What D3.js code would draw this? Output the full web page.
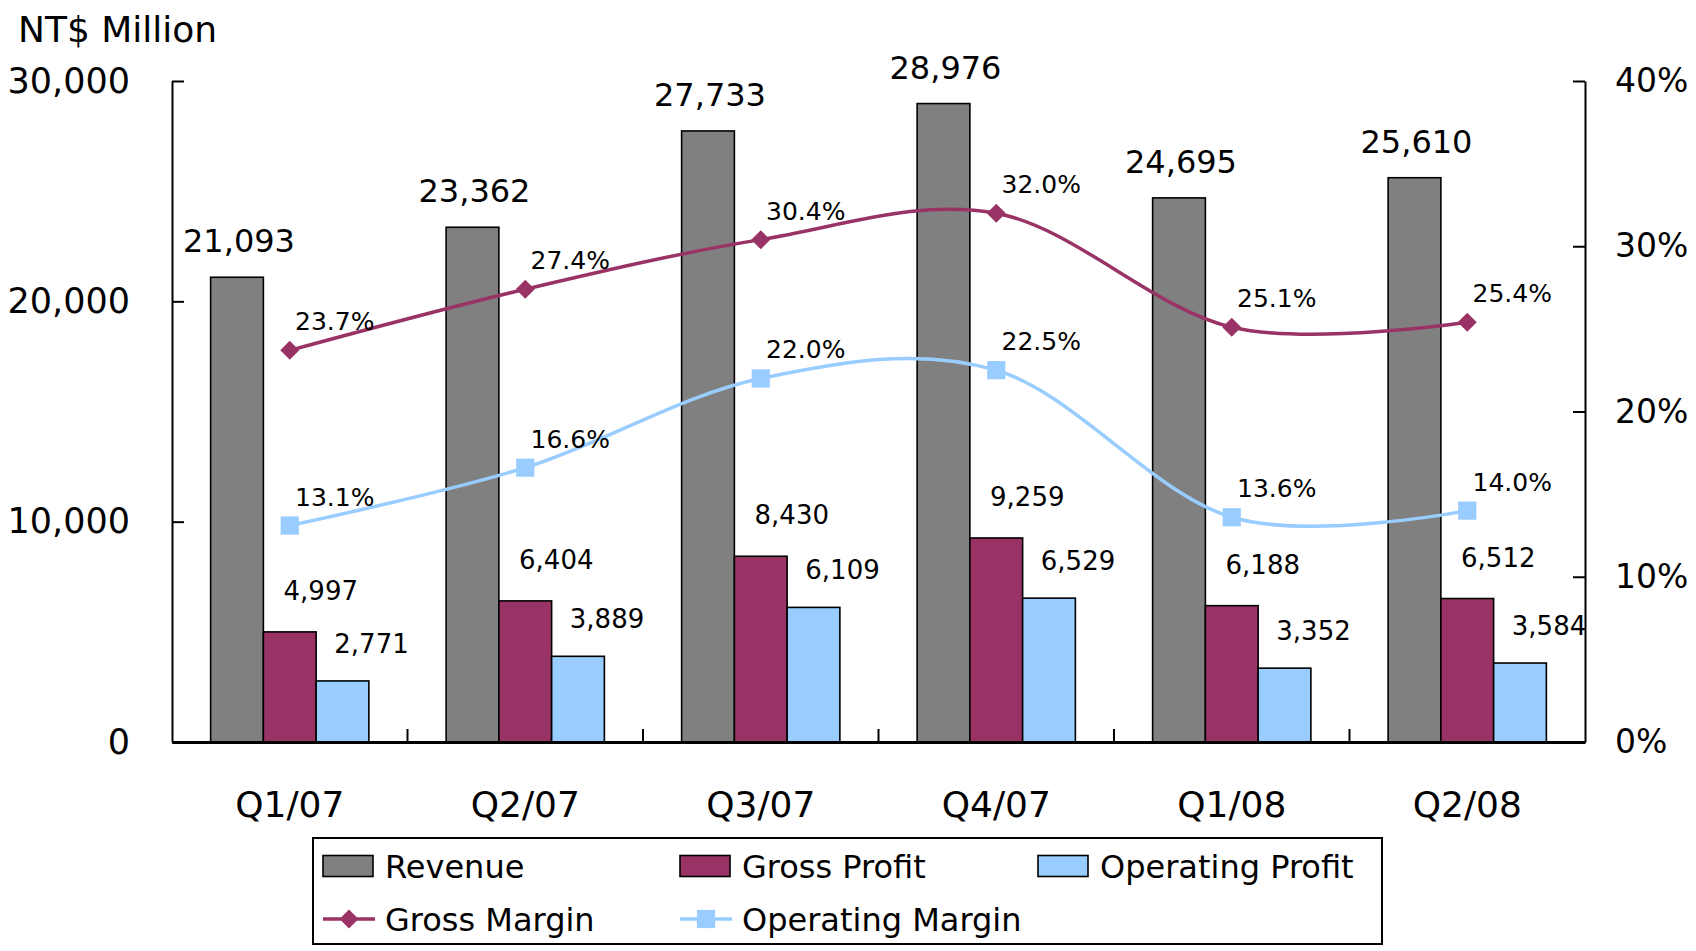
<!DOCTYPE html>
<html>
<head>
<meta charset="utf-8">
<script src="https://cdn.jsdelivr.net/npm/d3@7"></script>
<style>
  body { margin: 0; background: #fff; }
  text { font-family: "DejaVu Sans", Verdana, sans-serif; fill: #000; }
</style>
</head>
<body>
<script>
// chart values
var quarters = ["Q1/07", "Q2/07", "Q3/07", "Q4/07", "Q1/08", "Q2/08"]
var revenue = [21093, 23362, 27733, 28976, 24695, 25610]
var grossProfit = [4997, 6404, 8430, 9259, 6188, 6512]
var operatingProfit = [2771, 3889, 6109, 6529, 3352, 3584]
var grossMargin = [23.7, 27.4, 30.4, 32.0, 25.1, 25.4]
var operatingMargin = [13.1, 16.6, 22.0, 22.5, 13.6, 14.0]
var leftTicks = [0, 10000, 20000, 30000]
var rightTicks = [0, 10, 20, 30, 40]
var barSeries = ["Revenue", "Gross Profit", "Operating Profit"]
var lineSeries = ["Gross Margin", "Operating Margin"]

var W = 1696, H = 951
var plot = { left: 172, right: 1585, top: 81, bottom: 742 }
var colors = { "Revenue": "#808080", "Gross Profit": "#993366", "Operating Profit": "#99ccff",
               "Gross Margin": "#993366", "Operating Margin": "#99ccff" }

var svg = d3.select("body").append("svg")
  .attr("width", W).attr("height", H)

var x = d3.scaleBand().domain(quarters).range([plot.left, plot.right])
var gap = x.bandwidth() * 0.164
var xs = d3.scaleBand().domain(barSeries).range([gap, x.bandwidth() - gap])
var y = d3.scaleLinear().domain([0, 30000]).range([plot.bottom, plot.top])
var y2 = d3.scaleLinear().domain([0, 40]).range([plot.bottom, plot.top])

// bars
var barData = [revenue, grossProfit, operatingProfit]
var rows = []
quarters.forEach(function(q, i) {
  barSeries.forEach(function(s, j) {
    rows.push({ q: q, s: s, v: barData[j][i] })
  })
})

svg.append("g").selectAll("rect")
  .data(rows)
  .enter()
  .append("rect")
  .attr("x", function(d) { return x(d.q) + xs(d.s) })
  .attr("width", xs.bandwidth())
  .attr("y", function(d) { return y(d.v) })
  .attr("height", function(d) { return plot.bottom - y(d.v) })
  .attr("fill", function(d) { return colors[d.s] })
  .attr("stroke", "#000")
  .attr("stroke-width", 1.6)

// axes
var axisL = svg.append("g").attr("transform", "translate(" + plot.left + ",0)")
  .call(d3.axisLeft(y).tickValues(leftTicks).tickFormat(d3.format(","))
    .tickSizeInner(-12).tickSizeOuter(0).tickPadding(42))
var axisR = svg.append("g").attr("transform", "translate(" + plot.right + ",0)")
  .call(d3.axisRight(y2).tickValues(rightTicks).tickFormat(function(d) { return d + "%" })
    .tickSizeInner(-12).tickSizeOuter(0).tickPadding(30))
var axisB = svg.append("g").attr("transform", "translate(0," + plot.bottom + ")")
  .call(d3.axisBottom(x).tickSize(0).tickPadding(49))

;[axisL, axisR, axisB].forEach(function(a) {
  a.selectAll("path, line").attr("stroke", "#000").attr("stroke-width", 2)
  a.selectAll("text").attr("font-family", "DejaVu Sans").attr("font-size", 35).attr("fill", "#000")
})
axisR.selectAll("text").attr("font-size", 33)
axisB.selectAll("text").attr("font-size", 36)
axisB.select(".domain").attr("stroke-width", 3)

// category separators on the bottom axis
var bounds = quarters.map(function(q) { return x(q) }).slice(1)
svg.append("g").selectAll("line")
  .data(bounds)
  .enter()
  .append("line")
  .attr("x1", function(d) { return d }).attr("x2", function(d) { return d })
  .attr("y1", plot.bottom).attr("y2", plot.bottom - 13)
  .attr("stroke", "#000").attr("stroke-width", 2)

// unit title
svg.append("text")
  .attr("x", 18).attr("y", 42)
  .attr("font-size", 36)
  .text("NT$ Million")

// margin lines
var cx = function(i) { return x(quarters[i]) + x.bandwidth() / 2 }
var line = d3.line()
  .x(function(d, i) { return cx(i) })
  .y(function(d) { return y2(d) })
  .curve(d3.curveCardinal.tension(0))

var lines = [grossMargin, operatingMargin]
lines.forEach(function(vals, k) {
  var name = lineSeries[k]
  svg.append("path")
    .attr("d", line(vals))
    .attr("fill", "none")
    .attr("stroke", colors[name])
    .attr("stroke-width", 3.5)
})

var diamond = d3.symbol().type(d3.symbolSquare).size(180)
var square = d3.symbol().type(d3.symbolSquare).size(330)

svg.append("g").selectAll("path")
  .data(grossMargin)
  .enter()
  .append("path")
  .attr("d", diamond)
  .attr("transform", function(d, i) { return "translate(" + cx(i) + "," + y2(d) + ") rotate(45)" })
  .attr("fill", colors["Gross Margin"])

svg.append("g").selectAll("path")
  .data(operatingMargin)
  .enter()
  .append("path")
  .attr("d", square)
  .attr("transform", function(d, i) { return "translate(" + cx(i) + "," + y2(d) + ")" })
  .attr("fill", colors["Operating Margin"])

// data labels
var fmt = d3.format(",")
var labels = svg.append("g")

labels.selectAll(".rev")
  .data(revenue)
  .enter()
  .append("text")
  .attr("class", "rev")
  .attr("text-anchor", "middle")
  .attr("font-size", 32)
  .attr("x", function(d, i) { return x(quarters[i]) + xs("Revenue") + xs.bandwidth() / 2 + 2 })
  .attr("y", function(d) { return y(d) - 25 })
  .text(function(d) { return fmt(d) })

labels.selectAll(".gp")
  .data(grossProfit)
  .enter()
  .append("text")
  .attr("class", "gp")
  .attr("text-anchor", "middle")
  .attr("font-size", 26)
  .attr("x", function(d, i) { return x(quarters[i]) + xs("Gross Profit") + xs.bandwidth() / 2 + 31 })
  .attr("y", function(d) { return y(d) - 32 })
  .text(function(d) { return fmt(d) })

labels.selectAll(".op")
  .data(operatingProfit)
  .enter()
  .append("text")
  .attr("class", "op")
  .attr("text-anchor", "middle")
  .attr("font-size", 26)
  .attr("x", function(d, i) { return x(quarters[i]) + xs("Operating Profit") + xs.bandwidth() / 2 + 29 })
  .attr("y", function(d) { return y(d) - 28 })
  .text(function(d) { return fmt(d) })

lines.forEach(function(vals, k) {
  labels.selectAll(".pct" + k)
    .data(vals)
    .enter()
    .append("text")
    .attr("class", "pct" + k)
    .attr("text-anchor", "middle")
    .attr("font-size", 25)
    .attr("x", function(d, i) { return cx(i) + 45 })
    .attr("y", function(d) { return y2(d) - 20 })
    .text(function(d) { return d.toFixed(1) + "%" })
})

// legend
var legend = svg.append("g")
legend.append("rect")
  .attr("x", 313).attr("y", 838).attr("width", 1069).attr("height", 106)
  .attr("fill", "#fff").attr("stroke", "#000").attr("stroke-width", 2)

var legendItems = [
  { name: "Revenue", type: "bar", lx: 323, ly: 866 },
  { name: "Gross Profit", type: "bar", lx: 680, ly: 866 },
  { name: "Operating Profit", type: "bar", lx: 1038, ly: 866 },
  { name: "Gross Margin", type: "diamond", lx: 323, ly: 919 },
  { name: "Operating Margin", type: "square", lx: 680, ly: 919 }
]

legendItems.forEach(function(it) {
  var g = legend.append("g").attr("transform", "translate(" + it.lx + "," + it.ly + ")")
  if (it.type === "bar") {
    g.append("rect").attr("x", 0).attr("y", -10.5).attr("width", 50).attr("height", 21)
      .attr("fill", colors[it.name]).attr("stroke", "#000").attr("stroke-width", 1.6)
  } else {
    g.append("line").attr("x1", 0).attr("x2", 52).attr("y1", 0).attr("y2", 0)
      .attr("stroke", colors[it.name]).attr("stroke-width", 3.5)
    g.append("path")
      .attr("d", it.type === "diamond" ? diamond : square)
      .attr("transform", "translate(26,0)" + (it.type === "diamond" ? " rotate(45)" : ""))
      .attr("fill", colors[it.name])
  }
  g.append("text")
    .attr("x", 62).attr("y", 0).attr("dy", "0.36em")
    .attr("font-size", 32)
    .text(it.name)
})
</script>
</body>
</html>
